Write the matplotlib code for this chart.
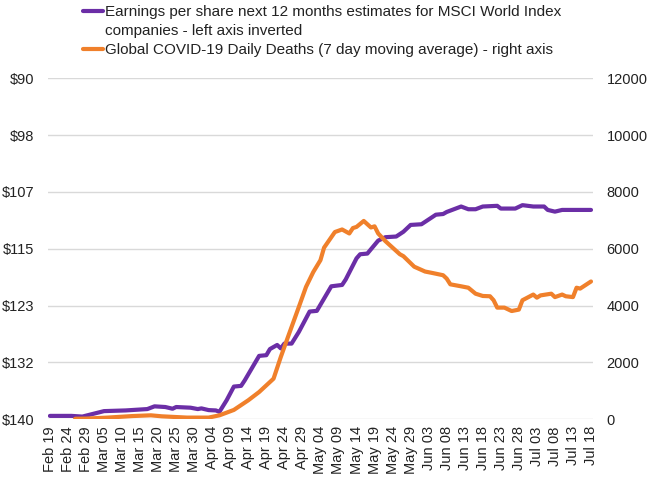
import matplotlib
matplotlib.use("Agg")
import matplotlib.pyplot as plt
from matplotlib.lines import Line2D
import numpy as np
import pandas as pd

# days counted from Feb 19, 2020
eps_days = [0, 6, 9, 15, 21, 27, 29, 32, 34, 35, 39, 41, 42, 44, 46, 47, 49, 51, 53, 54,
            58, 60, 61, 63, 64, 65, 67, 69, 72, 74, 78, 81, 82, 85, 86, 88, 91, 93, 96, 98,
            100, 103, 107, 109, 110, 114, 116, 118, 120, 124, 125, 129, 131, 134, 137, 138,
            140, 142, 150]
eps_vals = [139.5, 139.5, 139.6, 138.8, 138.7, 138.5, 138.1, 138.2, 138.45, 138.2, 138.3,
            138.5, 138.4, 138.65, 138.7, 138.9, 137.2, 135.2, 135.1, 134.3, 130.7, 130.6,
            129.7, 129.1, 129.6, 128.9, 128.9, 127.2, 124.2, 124.1, 120.5, 120.3, 119.5,
            116.4, 115.8, 115.7, 113.8, 113.3, 113.2, 112.5, 111.5, 111.4, 110.0, 109.9,
            109.6, 108.8, 109.2, 109.2, 108.8, 108.7, 109.1, 109.1, 108.6, 108.8, 108.8,
            109.3, 109.55, 109.3, 109.3]

death_days = [7, 10, 16, 23, 28, 31, 38, 44, 47, 49, 51, 55, 58, 62, 64, 66, 69, 71, 73, 75,
              76, 79, 81, 83, 84, 85, 87, 89, 90, 91, 93, 97, 98, 101, 104, 106, 109, 110,
              111, 114, 116, 118, 120, 122, 123, 124, 126, 128, 130, 131, 134, 135, 136,
              139, 140, 142, 143, 145, 146, 147, 150]
death_vals = [20, 25, 60, 115, 140, 105, 60, 60, 140, 235, 330, 670, 960, 1430, 2190, 2900,
              3950, 4660, 5180, 5600, 6040, 6590, 6680, 6540, 6730, 6770, 6980, 6750, 6790,
              6540, 6270, 5810, 5740, 5370, 5200, 5150, 5070, 4950, 4750, 4680, 4630, 4420,
              4340, 4330, 4190, 3930, 3930, 3810, 3860, 4190, 4390, 4280, 4360, 4420, 4300,
              4390, 4330, 4300, 4630, 4600, 4850]

dates = pd.date_range("2020-02-19", "2020-07-18", freq="D")
tick_pos = np.arange(0, len(dates), 5)
tick_labels = [dates[i].strftime("%b %d") for i in tick_pos]

left_ticks = np.linspace(90, 140, 7)
right_ticks = np.arange(0, 12001, 2000)

legend_lines = [["Earnings per share next 12 months estimates for MSCI World Index",
                 "companies - left axis inverted"],
                ["Global COVID-19 Daily Deaths (7 day moving average) - right axis"]]

purple = "#6B2EA6"
orange = "#F0802B"
txt = "#222222"
font = ["Liberation Sans", "DejaVu Sans"]

fig = plt.figure(figsize=(6.5, 5), dpi=100)
ax = fig.add_axes([0.074, 0.1614, 0.838, 0.682])
ax2 = ax.twinx()

ax.plot(eps_days, eps_vals, color=purple, lw=3, solid_capstyle="round", solid_joinstyle="round")
ax2.plot(death_days, death_vals, color=orange, lw=3, solid_capstyle="round", solid_joinstyle="round")

ax.set_xlim(-0.5, len(dates) - 0.5)
ax.set_ylim(140, 90)
ax2.set_ylim(0, 12000)

ax.set_yticks(left_ticks)
ax.set_yticklabels(["${:.0f}".format(v) for v in left_ticks])
ax2.set_yticks(right_ticks)
ax2.set_yticklabels([str(v) for v in right_ticks])
ax.set_xticks(tick_pos)
ax.set_xticklabels(tick_labels, rotation=90)

ax.grid(axis="y", color="#d9d9d9", lw=1)
ax.set_axisbelow(True)
ax.tick_params(axis="y", length=0, pad=10, labelsize=10.5, labelcolor=txt)
ax.tick_params(axis="x", length=0, pad=5, labelsize=10.5, labelcolor=txt)
ax2.tick_params(axis="y", length=0, pad=10, labelsize=10.5, labelcolor=txt)
for a in (ax, ax2):
    for s in a.spines.values():
        s.set_visible(False)
for lab in ax.get_xticklabels() + ax.get_yticklabels() + ax2.get_yticklabels():
    lab.set_family(font)

# legend drawn by hand so the swatch sits on the first text line
tx, y0, step = 105 / 650, 1 - 16 / 500, 19 / 500
row = 0
for color, lines in zip([purple, orange], legend_lines):
    yc = y0 + 5 / 500 - row * step
    fig.add_artist(Line2D([83 / 650, 103 / 650], [yc, yc], transform=fig.transFigure,
                          color=color, lw=3, solid_capstyle="round"))
    for line in lines:
        fig.text(tx, y0 - row * step, line, ha="left", va="baseline", fontsize=11,
                 family=font, color=txt)
        row += 1

fig.savefig("out.png", dpi=100)
